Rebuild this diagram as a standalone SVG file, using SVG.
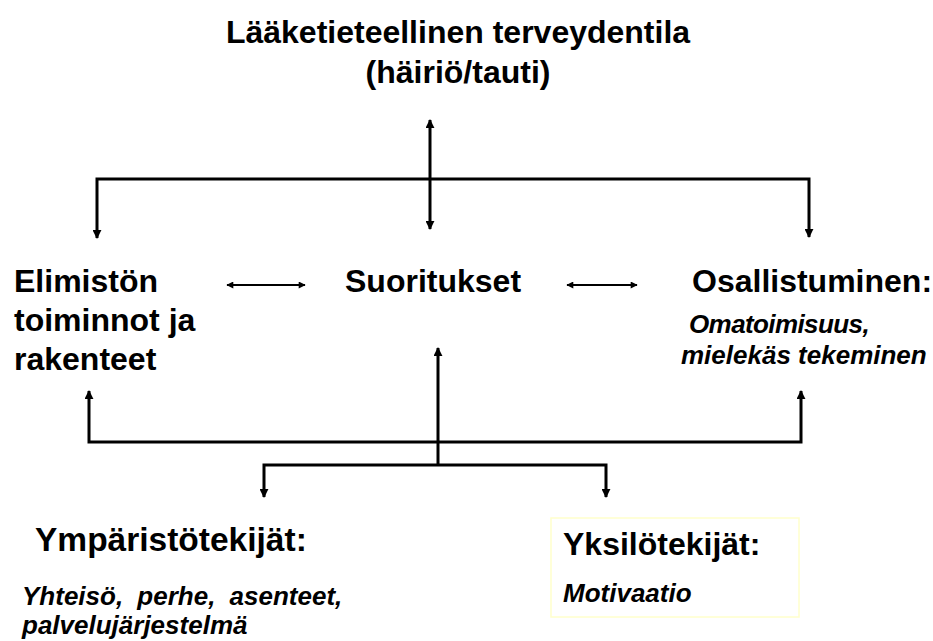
<svg xmlns="http://www.w3.org/2000/svg" width="933" height="641" viewBox="0 0 933 641">
  <style>
    .h { font-family: "Liberation Sans", Arial, sans-serif; font-weight: bold; font-size: 32px; fill: #000; }
    .i { font-family: "Liberation Sans", Arial, sans-serif; font-weight: bold; font-style: italic; font-size: 26px; fill: #000; }
    .ln { stroke: #000; stroke-width: 3; fill: none; }
    .thin { stroke: #000; stroke-width: 2; fill: none; }
  </style>
  <defs>
    <marker id="ah" viewBox="0 0 10 10" refX="9" refY="5" markerWidth="3.2" markerHeight="3" orient="auto-start-reverse" markerUnits="strokeWidth">
      <path d="M0,0 L10,5 L0,10 z" fill="#000"/>
    </marker>
    <marker id="ahs" viewBox="0 0 10 10" refX="9" refY="5" markerWidth="4" markerHeight="3.5" orient="auto-start-reverse" markerUnits="strokeWidth">
      <path d="M0,0 L10,5 L0,10 z" fill="#000"/>
    </marker>
  </defs>
  <rect width="933" height="641" fill="#fff"/>

  <g id="terveydentila">
    <text class="h" x="458" y="43" text-anchor="middle">Lääketieteellinen terveydentila</text>
    <text class="h" x="458" y="83" text-anchor="middle">(häiriö/tauti)</text>
  </g>

  <g id="elimisto">
    <text class="h" x="14" y="292">Elimistön</text>
    <text class="h" x="14" y="331">toiminnot ja</text>
    <text class="h" x="14" y="370">rakenteet</text>
  </g>

  <g id="suoritukset">
    <text class="h" x="345" y="292">Suoritukset</text>
  </g>

  <g id="osallistuminen">
    <text class="h" x="692" y="292">Osallistuminen:</text>
    <text class="i" x="689" y="333" letter-spacing="-0.6">Omatoimisuus,</text>
    <text class="i" x="681" y="364">mielekäs tekeminen</text>
  </g>

  <g id="ymparisto">
    <text class="h" x="35" y="551" style="font-size:33.5px">Ympäristötekijät:</text>
    <text class="i" x="22" y="605" word-spacing="7">Yhteisö, perhe, asenteet,</text>
    <text class="i" x="22" y="634">palvelujärjestelmä</text>
  </g>

  <g id="yksilo">
    <rect x="551" y="518" width="248" height="99" fill="#fff" stroke="#ffffcc" stroke-width="1.5"/>
    <text class="h" x="563" y="555">Yksilötekijät:</text>
    <text class="i" x="563" y="602">Motivaatio</text>
  </g>

  <g id="connectors">
    <!-- upper branch -->
    <line class="ln" x1="430" y1="120" x2="430" y2="229" marker-start="url(#ah)" marker-end="url(#ah)"/>
    <polyline class="ln" points="97,238 97,179 809,179 809,237" marker-start="url(#ah)" marker-end="url(#ah)"/>
    <!-- links between the middle row -->
    <line class="thin" x1="227" y1="285" x2="305" y2="285" marker-start="url(#ahs)" marker-end="url(#ahs)"/>
    <line class="thin" x1="567" y1="285" x2="637" y2="285" marker-start="url(#ahs)" marker-end="url(#ahs)"/>
    <!-- lower branch -->
    <line class="ln" x1="438" y1="465" x2="438" y2="348" marker-end="url(#ah)"/>
    <polyline class="ln" points="89,391 89,442 801,442 801,391" marker-start="url(#ah)" marker-end="url(#ah)"/>
    <polyline class="ln" points="264,497 264,465 606,465 606,497" marker-start="url(#ah)" marker-end="url(#ah)"/>
  </g>
</svg>
